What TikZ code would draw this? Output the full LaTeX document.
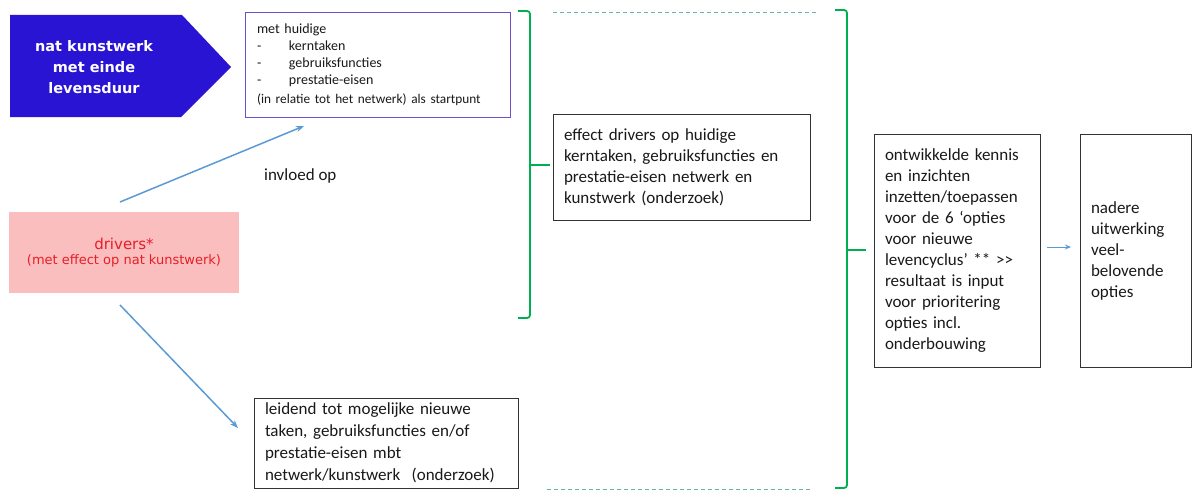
\documentclass[tikz,border=0pt]{standalone}
\usepackage{fontspec}
\setmainfont{Carlito}
\newfontfamily\vfont{DejaVu Sans}
\usetikzlibrary{arrows.meta}
\definecolor{navyblue}{RGB}{42,20,212}
\definecolor{boxpurple}{RGB}{110,80,200}
\definecolor{brgreen}{RGB}{0,176,80}
\definecolor{dashteal}{RGB}{100,180,170}
\definecolor{arrblue}{RGB}{91,155,213}
\definecolor{pinkbg}{RGB}{251,190,190}
\definecolor{drvred}{RGB}{230,30,40}
\definecolor{txt}{RGB}{25,25,25}
\begin{document}
\begin{tikzpicture}[x=1pt,y=-1pt,
  box/.style={draw=black!80, line width=0.8pt, inner xsep=11pt, inner ysep=0pt,
    align=left, text=txt, font=\fontsize{17}{21}\selectfont},
  brack/.style={draw=brgreen, line width=1.8pt, rounded corners=3pt},
  dashln/.style={draw=dashteal, line width=1pt, dash pattern=on 4pt off 3pt},
  arr/.style={draw=arrblue, line width=1.5pt, -{Stealth[length=8pt,width=6pt]}}]
\useasboundingbox (0,0) rectangle (1192,495);
\fill[white] (0,0) rectangle (1192,495);

% pentagon
\fill[navyblue] (10,15) -- (182,15) -- (231,67) -- (181,117) -- (10,117) -- cycle;
\node[text=white, align=center, font=\vfont\bfseries\fontsize{14.5}{21}\selectfont] (title) at (94,67)
  {nat kunstwerk\\met einde\\levensduur};

% top box
\node[box, draw=boxpurple, inner xsep=12pt, text width=241pt, minimum height=105pt,
  font=\fontsize{14}{17}\selectfont] (huidig) at (377.5,64.5)
  {met huidige\\
   \makebox[32pt][l]{-}kerntaken\\
   \makebox[32pt][l]{-}gebruiksfuncties\\
   \makebox[32pt][l]{-}prestatie-eisen\\[2pt]
   {\fontsize{13.3}{17}\selectfont (in relatie tot het netwerk)\ als startpunt}};

% drivers
\node[fill=pinkbg, minimum width=230pt, minimum height=81pt, inner sep=0pt, align=center,
  text=drvred] (drivers) at (124,252.5)
  {{\vfont\fontsize{15}{19}\selectfont drivers*}\\[3pt]
   {\vfont\fontsize{13}{16}\selectfont (met effect op nat kunstwerk)}};

\node[text=txt, font=\fontsize{17}{20}\selectfont, anchor=west, inner sep=0pt] (invloed) at (264,176) {invloed op};

% arrows from drivers
\coordinate (a1s) at (120,202);
\coordinate (a1e) at (304,126);
\coordinate (a2s) at (120,305);
\coordinate (a2e) at (238,428);
\draw[arr] (a1s) -- (a1e);
\draw[arr] (a2s) -- (a2e);

% bottom box
\node[box, text width=242pt, minimum height=90pt, font=\fontsize{17}{22}\selectfont] (leidend) at (386,443)
  {leidend tot mogelijke nieuwe\\taken, gebruiksfuncties en/of\\prestatie-eisen mbt\\netwerk/kunstwerk\ \ (onderzoek)};

% bracket 1
\draw[brack] (518,11) -- (530,11) -- (530,318) -- (518,318);
\draw[brgreen, line width=1.8pt] (530,165) -- (550,165);

% effect box
\node[box, text width=235pt, minimum height=106pt] (effect) at (681.5,167)
  {effect drivers op huidige\\kerntaken,\ gebruiksfuncties en\\prestatie-eisen netwerk\ en\\kunstwerk (onderzoek)};

% dashed lines
\coordinate (d1s) at (553,13);
\coordinate (d1e) at (817,13);
\coordinate (d2s) at (547,489);
\coordinate (d2e) at (810,489);
\draw[dashln] (d1s) -- (d1e);
\draw[dashln] (d2s) -- (d2e);

% bracket 2
\draw[brack] (835,10) -- (847,10) -- (847,488) -- (835,488);
\draw[brgreen, line width=1.8pt] (847,250) -- (866,250);

% ontwikkelde box
\node[box, inner xsep=11pt, text width=144pt, minimum height=233pt] (ontw) at (957,250.5)
  {ontwikkelde\ kennis\\en inzichten\\inzetten/toepassen\\voor de 6 `opties\\voor nieuwe\\levencyclus' ** >{}>\\resultaat is input\\voor prioritering\\opties incl.\\onderbouwing};

% nadere box
\node[box, text width=89pt, minimum height=233pt] (nadere) at (1135.5,250.5)
  {nadere\\uitwerking\\veel-\\belovende\\opties};

\coordinate (a3s) at (1047,247);
\coordinate (a3e) at (1071,247);
\draw[draw=arrblue, line width=1pt, -{Stealth[length=6pt,width=5pt]}] (a3s) -- (a3e);
\end{tikzpicture}
\end{document}
